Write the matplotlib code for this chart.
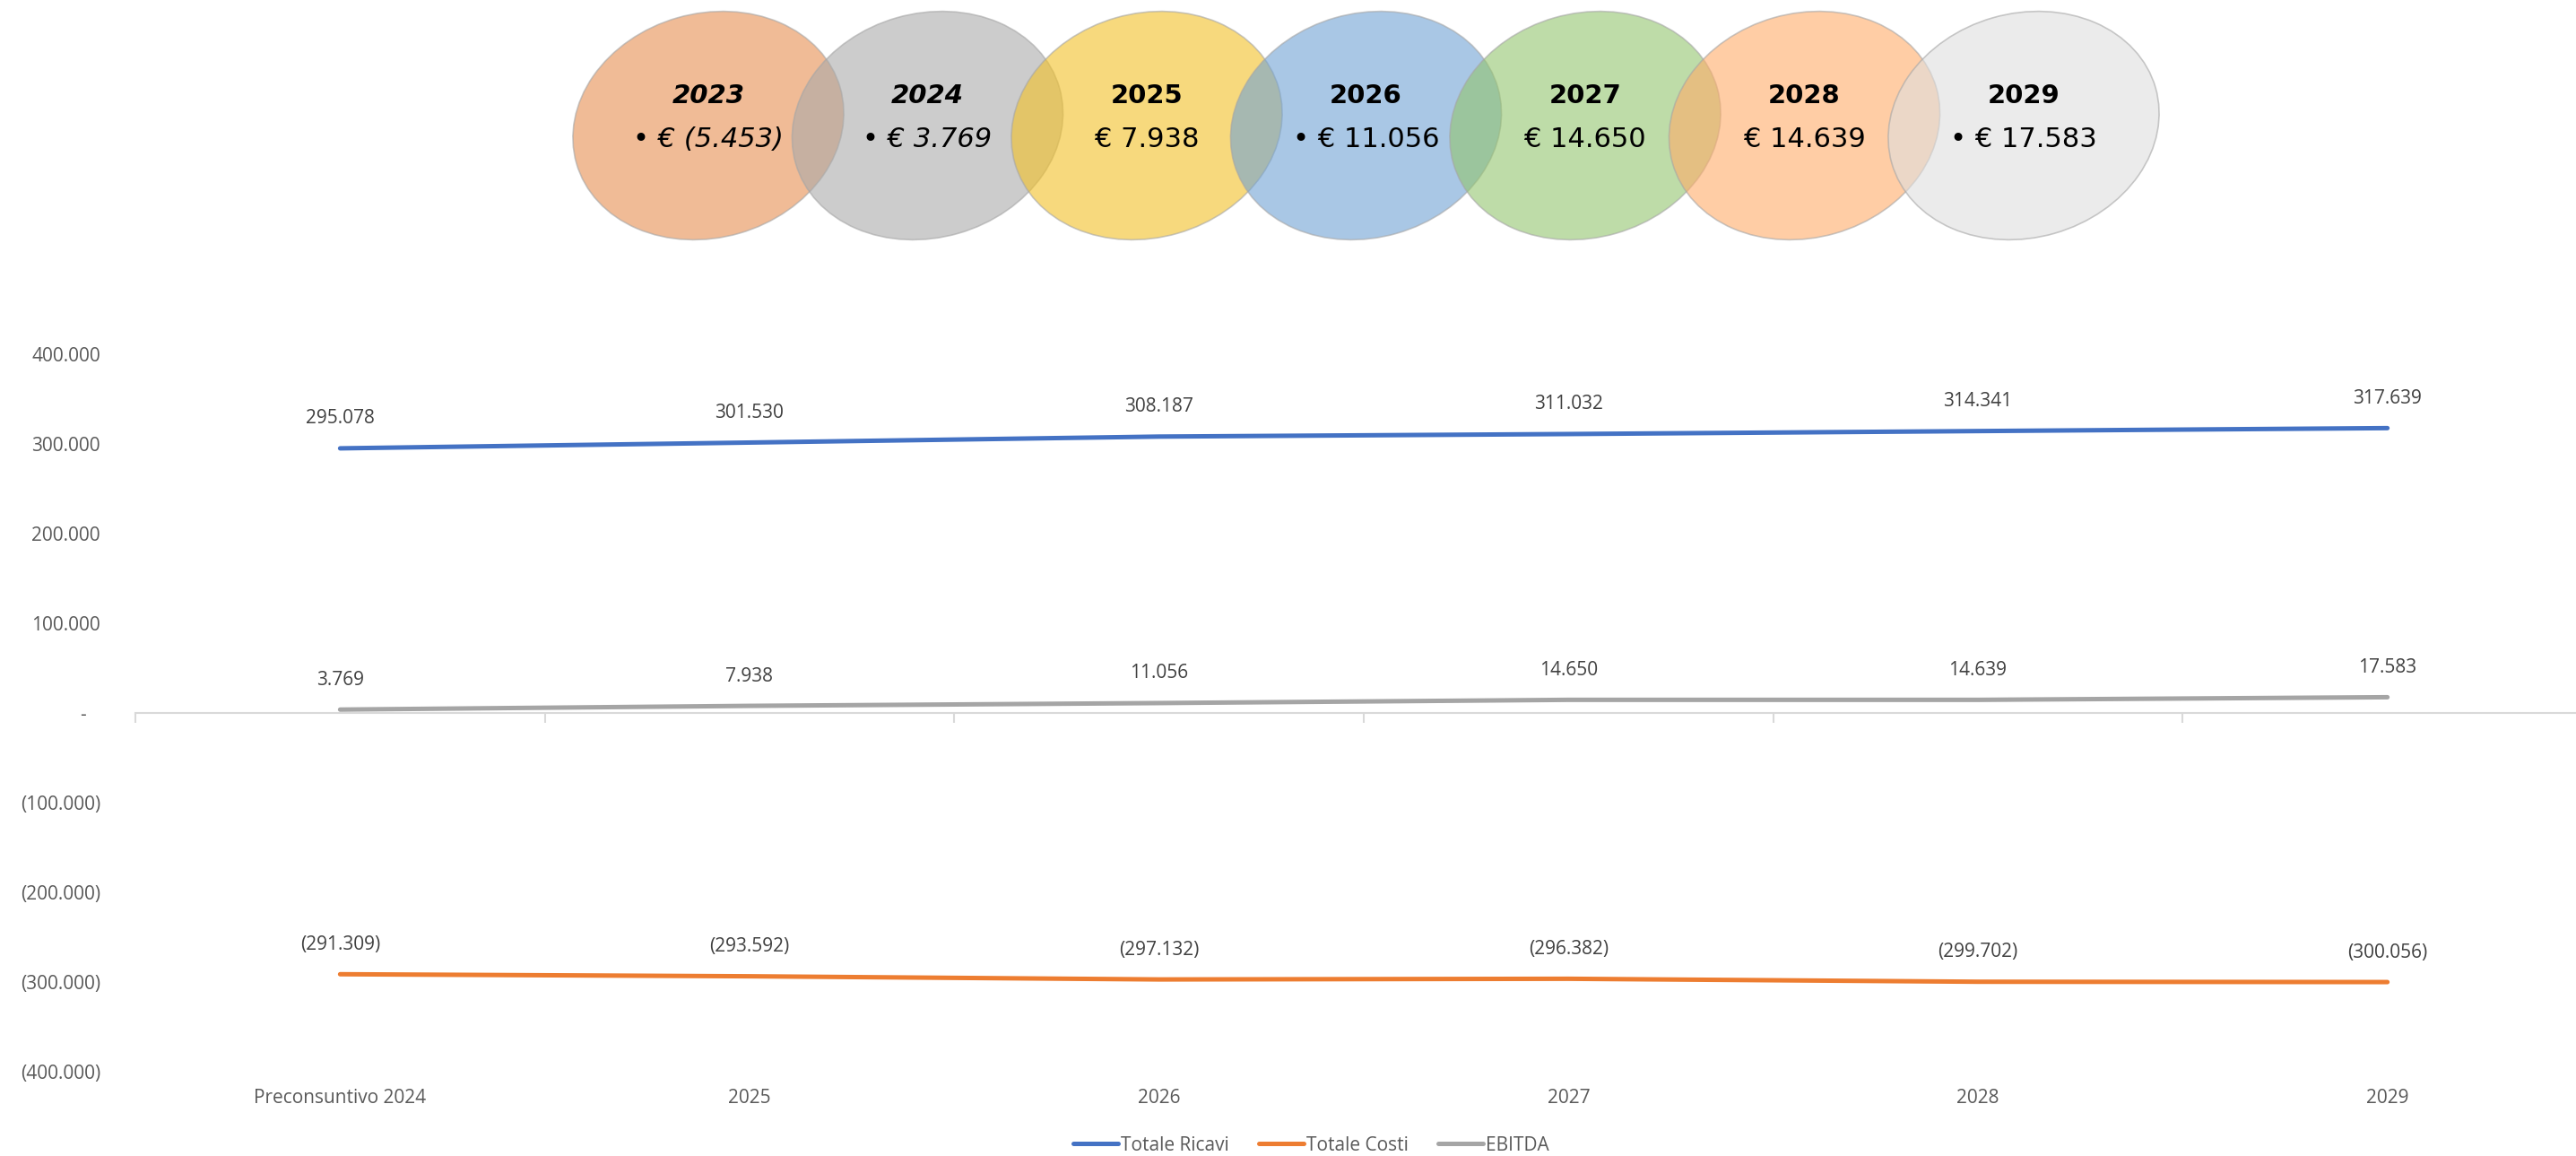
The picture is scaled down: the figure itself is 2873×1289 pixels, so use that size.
import numpy as np
import matplotlib
matplotlib.use("Agg")
import matplotlib.pyplot as plt
from matplotlib.patches import Ellipse
from matplotlib.transforms import ScaledTranslation

# chart data
categories = ["Preconsuntivo 2024", "2025", "2026", "2027", "2028", "2029"]
totale_ricavi = [295078, 301530, 308187, 311032, 314341, 317639]
totale_costi = [-291309, -293592, -297132, -296382, -299702, -300056]
ebitda = [3769, 7938, 11056, 14650, 14639, 17583]
y_ticks = [400000, 300000, 200000, 100000, 0, -100000, -200000, -300000, -400000]

# EBITDA bubbles on top
bubble_years = ["2023", "2024", "2025", "2026", "2027", "2028", "2029"]
bubble_values = ["• € (5.453)", "• € 3.769", "€ 7.938", "• € 11.056",
                 "€ 14.650", "€ 14.639", "• € 17.583"]
bubble_italic = [True, True, False, False, False, False, False]
bubble_colors = ["#E68F50", "#AAAAAA", "#F3C126", "#71A3D5",
                 "#93C56E", "#FFAC69", "#DFDFDF"]

W, H = 2873, 1289
TEXT_FONT = ["Open Sans", "DejaVu Sans"]


def fmt(v):
    """Excel-like accounting format with dot thousands separator."""
    if v > 0:
        return f"{v:,.0f}".replace(",", ".")
    if v < 0:
        return f"({-v:,.0f})".replace(",", ".")
    return "-"


fig = plt.figure(figsize=(W / 100, H / 100), dpi=100)
fig.patch.set_facecolor("white")

# --- bubbles (pixel coordinates) ---
bax = fig.add_axes([0, 0, 1, 1])
bax.set_xlim(0, W)
bax.set_ylim(H, 0)
bax.axis("off")

first_cx, spacing, cy = 790, 244.5, 140
for i, (year, value) in enumerate(zip(bubble_years, bubble_values)):
    cx = first_cx + i * spacing
    ell = Ellipse((cx, cy), width=306, height=250, angle=-16,
                  facecolor=bubble_colors[i], alpha=0.6,
                  edgecolor="#A6A6A6", linewidth=1.2, zorder=2 + i)
    bax.add_patch(ell)
    style = "italic" if bubble_italic[i] else "normal"
    bax.text(cx, 107, year, ha="center", va="center", fontsize=21,
             fontweight="bold", style=style, family="DejaVu Sans",
             color="black", zorder=20)
    bax.text(cx, 156, value, ha="center", va="center", fontsize=22,
             style=style, family="DejaVu Sans", color="black", zorder=20)

# --- line chart ---
ax = fig.add_axes([151 / W, 1 - 1195 / H, (2891 - 151) / W, 800 / H])
ax.patch.set_alpha(0)
ax.set_xlim(-0.5, 5.5)
ax.set_ylim(-400000, 400000)

x = np.arange(len(categories))
series = [("Totale Ricavi", totale_ricavi, "#4472C4"),
          ("Totale Costi", totale_costi, "#ED7D31"),
          ("EBITDA", ebitda, "#A5A5A5")]
for name, values, color in series:
    ax.plot(x, values, color=color, linewidth=3.6, solid_capstyle="round",
            label=name, zorder=3)
    for xi, v in zip(x, values):
        ax.annotate(fmt(v), (xi, v), xytext=(0, 33), textcoords="offset pixels",
                    ha="center", va="center", fontsize=15, color="#404040",
                    family=TEXT_FONT)

for side in ["top", "left", "right"]:
    ax.spines[side].set_visible(False)
ax.spines["bottom"].set_position(("data", 0))
ax.spines["bottom"].set_color("#D9D9D9")
ax.spines["bottom"].set_linewidth(1.5)
ax.set_xticks(np.arange(-0.5, len(categories), 1.0))
ax.tick_params(axis="x", length=8, width=1.5, color="#D9D9D9", labelbottom=False)

ax.set_yticks(y_ticks, [fmt(v) for v in y_ticks])
ax.tick_params(axis="y", length=0, pad=28, labelsize=15, labelcolor="#595959")
for lbl in ax.get_yticklabels():
    lbl.set_family(TEXT_FONT)
    if lbl.get_text() == "-":
        lbl.set_transform(lbl.get_transform()
                          + ScaledTranslation(-0.16, 0, fig.dpi_scale_trans))

# category labels on a separate axis at the bottom of the plot area
sec = ax.secondary_xaxis("bottom")
sec.set_xticks(x, categories)
sec.tick_params(length=0, pad=14, labelsize=15, labelcolor="#595959")
sec.spines["bottom"].set_visible(False)
for lbl in sec.get_xticklabels():
    lbl.set_family(TEXT_FONT)

leg = fig.legend(loc="center", bbox_to_anchor=(0.509, 0.0093), ncol=3,
                 frameon=False, handlelength=2.4, handletextpad=0.15,
                 columnspacing=1.6, borderpad=0,
                 prop={"family": TEXT_FONT, "size": 15})
for t in leg.get_texts():
    t.set_color("#595959")

fig.savefig("out.png", dpi=100, facecolor="white")
